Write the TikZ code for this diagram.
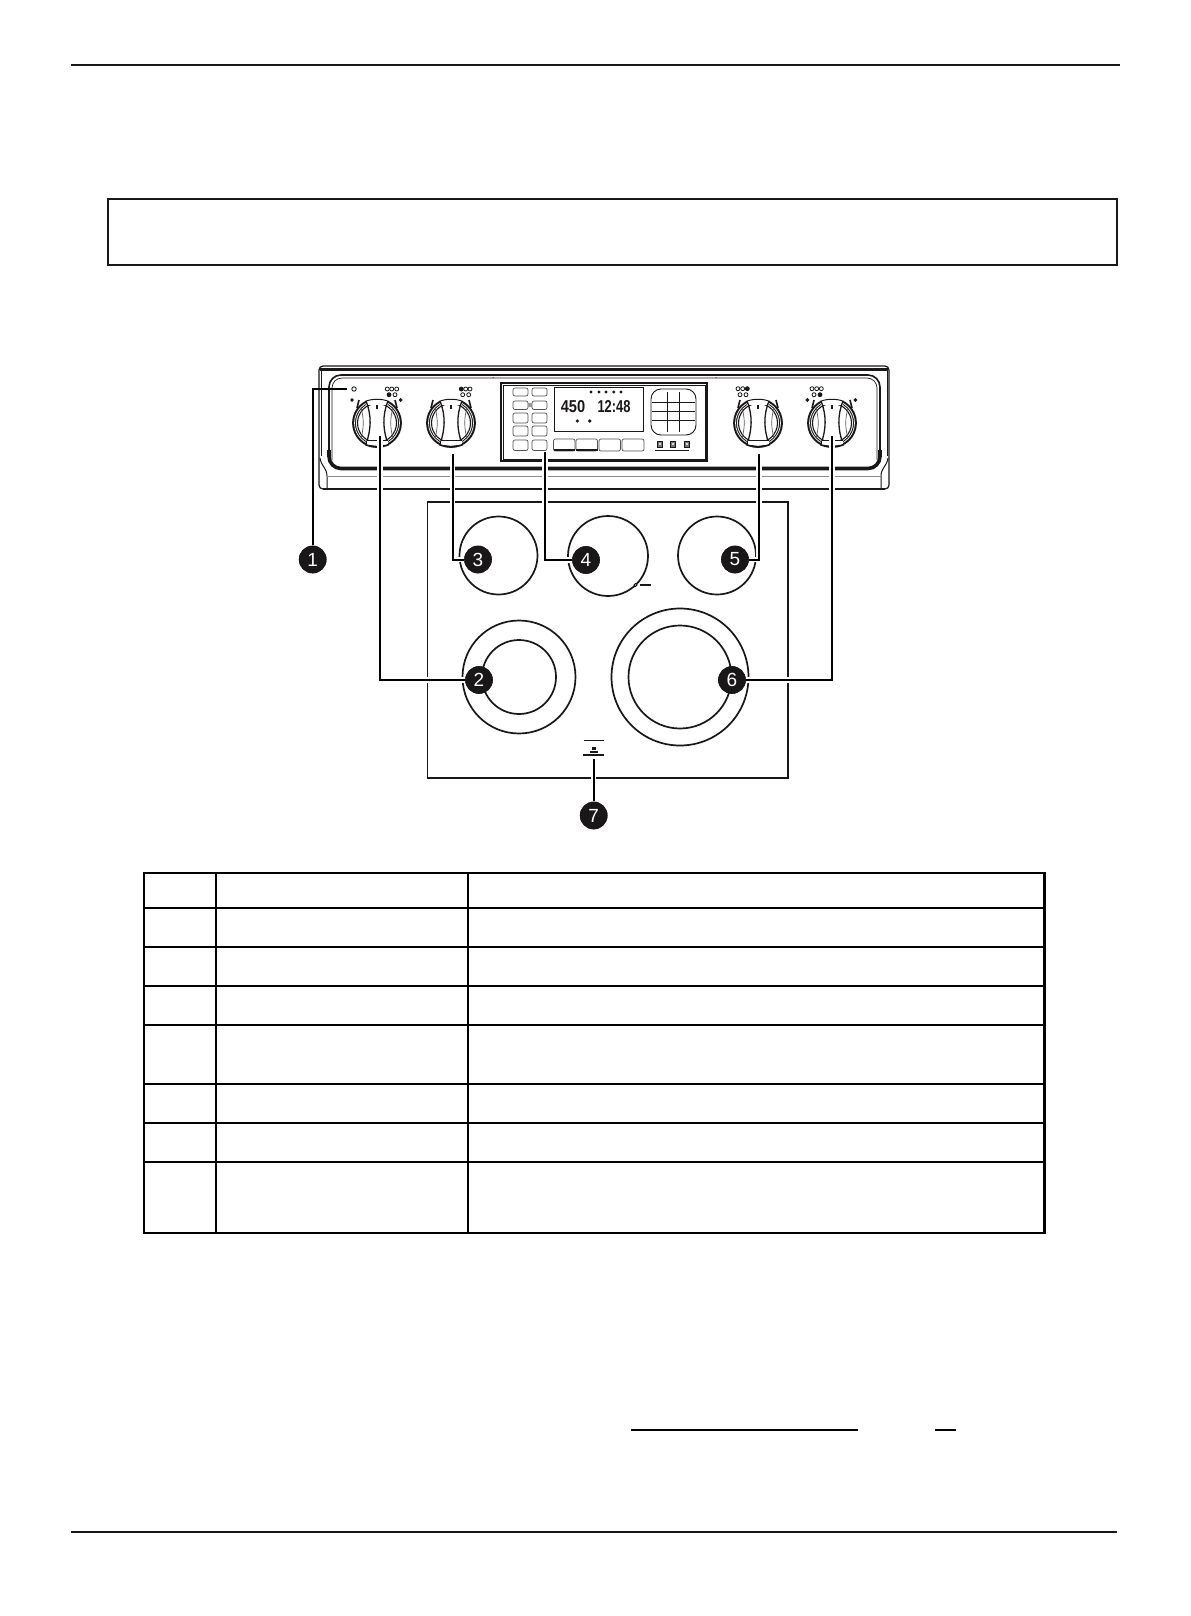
\documentclass[tikz,border=0pt]{standalone}
\usepackage{fontspec}
\usepackage{graphicx}
\setmainfont{Liberation Sans}
\definecolor{ink}{HTML}{1A1718}
\tikzset{
  x=0.5pt,y=-0.5pt,
  rule/.style={line width=0.95pt,draw=ink},
  hrow/.style={line width=0.6pt,draw=black},
  vrow/.style={line width=1.05pt,draw=black},
  burner/.style={line width=0.85pt,draw=ink},
  frame/.style={line width=0.55pt,draw=ink},
  thinl/.style={line width=0.3pt,draw=ink},
  keybox/.style={line width=0.35pt,draw=ink!75,rounded corners=1pt,fill=white},
  halo/.style={line width=2.6pt,draw=white},
  lead/.style={line width=1pt,draw=black},
  callout/.style={circle,fill=ink,text=white,inner sep=0pt,minimum size=13.8pt,font=\fontsize{9.5}{9.5}\selectfont},
  opdot/.style={line width=0.4pt,draw=ink,fill=white},
  fldot/.style={line width=0.4pt,draw=ink,fill=ink},
  dial/.pic={
    \draw[line width=1.9pt,draw=ink] (0,0) circle (23);
    \draw[line width=0.35pt,draw=white] (0,0) circle (22.5);
    \draw[line width=0.55pt,draw=ink] (0,0) circle (19.5);
    \fill[white] (-11,-26) rectangle (11,-18);
    \draw[line width=0.5pt,draw=ink] (-12,-21.5) .. controls (-5,-24.5) and (5,-24.5) .. (12,-21.5);
    \draw[line width=0.65pt,draw=ink] (-11,-22) .. controls (-5,-7) and (-6,7) .. (-11,21);
    \draw[line width=0.65pt,draw=ink] (11,-22) .. controls (5,-7) and (6,7) .. (11,21);
    \draw[line width=0.35pt,draw=ink!70] (-16,-15) .. controls (-13,-5) and (-13,5) .. (-16,15);
    \draw[line width=0.35pt,draw=ink!70] (16,-15) .. controls (13,-5) and (13,5) .. (16,15);
    \fill[white] (-10.5,17) rectangle (10.5,21.5);
    \draw[line width=0.45pt,draw=ink] (-10.5,17) -- (10.5,17);
    \draw[line width=0.8pt,draw=ink] (-12,21.5) .. controls (-4,24.5) and (4,24.5) .. (12,21.5);
    \draw[line width=0.8pt,draw=ink] (0,-18) -- (0,-14);
    \draw[line width=0.8pt,draw=ink] (-20,-15) -- (-18,-23);
    \draw[line width=0.8pt,draw=ink] (20,-15) -- (18,-23);
  }
}
\begin{document}
\begin{tikzpicture}
\useasboundingbox (0,0) rectangle (1190,1616);
\fill[white] (0,0) rectangle (1190,1616);
% page rules and empty box
\draw[rule] (71,65) -- (1120,65);
\draw[rule] (71,1532) -- (1117,1532);
\draw[line width=1pt,draw=ink] (108,199) rectangle (1117,265);
% control panel housing
\draw[line width=0.6pt,draw=ink,rounded corners=2pt] (323,489) -- (319,489) -- (319,366) -- (889,366) -- (889,489) -- (885,489);
\draw[line width=1.1pt,draw=ink] (320,369.5) -- (888,369.5);
\draw[line width=0.35pt,draw=ink] (321,369) -- (321,456);
\draw[line width=0.35pt,draw=ink] (887,369) -- (887,456);
\draw[line width=0.5pt,draw=ink] (320,458) .. controls (321,466) and (327,468) .. (327,476) -- (327,489);
\draw[line width=0.5pt,draw=ink] (888,458) .. controls (887,466) and (881,468) .. (881,476) -- (881,489);
\draw[line width=0.9pt,draw=ink] (323,489) -- (885,489);
\draw[line width=0.3pt,draw=ink!50] (327,476) -- (881,476);
% inner bezel
\draw[line width=0.8pt,draw=ink,rounded corners=6pt] (329,460) -- (329,375) -- (880,375) -- (880,460);
\draw[line width=0.35pt,draw=ink,rounded corners=5pt] (332,460) -- (332,378) -- (877,378) -- (877,460);
\draw[line width=1.8pt,draw=ink,rounded corners=6pt] (329,450) -- (329,468.5) -- (880,468.5) -- (880,450);
\fill[ink] (493,377.5) circle (0.5);
\fill[ink] (716,377.5) circle (0.5);
% indicator light
\draw[line width=0.45pt,draw=ink] (354,389) circle (2.2);
% setting dots, knob 1
\draw[opdot] (387.3,389) circle (2);\draw[opdot] (391.7,389) circle (2);\draw[opdot] (396.7,389) circle (2);
\draw[fldot] (389,394.7) circle (2);\draw[opdot] (395,394.7) circle (2);
\draw[fldot] (352,400) circle (1.4);\draw[fldot] (400.7,400) circle (1.4);
% setting dots, knob 2
\draw[fldot] (461.3,389) circle (2);\draw[opdot] (465.7,389) circle (2);\draw[opdot] (470,389) circle (2);
\draw[opdot] (462.7,394.7) circle (2);\draw[opdot] (468.7,394.7) circle (2);
% setting dots, knob 3
\draw[opdot] (738,388.7) circle (2);\draw[opdot] (742.7,388.7) circle (2);\draw[fldot] (747.3,388.7) circle (2);
\draw[opdot] (740,394.7) circle (2);\draw[opdot] (746,394.7) circle (2);
% setting dots, knob 4
\draw[opdot] (812,388.7) circle (2);\draw[opdot] (816.7,388.7) circle (2);\draw[opdot] (821.3,388.7) circle (2);
\draw[opdot] (814,394.7) circle (2);\draw[fldot] (820,394.7) circle (2);
\draw[fldot] (807.3,400) circle (1.4);\draw[fldot] (855.3,400) circle (1.4);
% knobs
\pic at (377,423) {dial};
\pic at (451,423) {dial};
\pic at (758,423) {dial};
\pic at (832,423) {dial};
\draw[line width=0.5pt,draw=ink] (369,445) -- (370,447);
\draw[line width=0.5pt,draw=ink] (384,445) -- (383,447);
\draw[line width=0.5pt,draw=ink] (824,445) -- (825,447);
\draw[line width=0.5pt,draw=ink] (839,445) -- (838,447);
% control centre
\draw[line width=0.55pt,draw=ink] (501,383) rectangle (707,461);
\draw[thinl] (503,385) rectangle (705,459);
\foreach \kx in {513,532}{
  \draw[keybox] (\kx,388) rectangle ++(15,8);
  \draw[keybox] (\kx,401) rectangle ++(15,8.5);
  \draw[keybox] (\kx,413) rectangle ++(15,10);
  \draw[keybox] (\kx,426) rectangle ++(15,10);
  \draw[keybox] (\kx,440) rectangle ++(15,10.5);
}
\fill[ink!45] (528,402.5) rectangle (532,407);
\draw[keybox] (553.5,439) rectangle (575,451);
\draw[keybox] (576,439) rectangle (597.5,451);
\draw[keybox] (599,439) rectangle (620.5,451);
\draw[keybox] (622,439) rectangle (644,451);
\draw[line width=0.7pt,draw=ink] (553.5,450) -- (575,450);
\draw[line width=0.7pt,draw=ink] (576,450) -- (597.5,450);
\draw[line width=0.45pt,draw=ink] (554,387) rectangle (643,431);
\foreach \dx in {591,599,606,613.7,621}{\fill[ink] (\dx,392) circle (1.6);}
\fill[ink] (577.3,421) circle (1.8);
\fill[ink] (589.7,421) circle (1.8);
\node[inner sep=0pt,font=\bfseries\fontsize{8.6}{8.6}\selectfont,text=ink] (temp) at (573,406.5) {\scalebox{.85}[1]{450}};
\node[inner sep=0pt,font=\bfseries\fontsize{8.6}{8.6}\selectfont,text=ink] (clock) at (614,406.5) {\scalebox{.75}[1]{12:48}};
\draw[line width=0.45pt,draw=ink,rounded corners=5pt] (651,389) rectangle (696,435);
\foreach \gy in {402.7,411.7,420.7}{\draw[thinl] (652,\gy) -- (695,\gy);}
\foreach \gx in {667.3,679.3}{\draw[thinl] (\gx,392) -- (\gx,432);}
\foreach \bx in {660,673,687}{\draw[line width=0.35pt,draw=ink,fill=ink!60] (\bx-2.8,441) rectangle (\bx+2.8,447);\fill[white] (\bx,444) circle (1.1);}
\draw[thinl] (655,450) -- (689,450);
% cooktop
\draw[line width=0.55pt,draw=ink] (427.5,502) rectangle (788,778);
\draw[burner] (498.5,555.5) circle (39);
\draw[burner] (608,556) circle (40);
\draw[burner] (717,555.5) circle (39);
\draw[burner] (519,677) circle (56.5);
\draw[burner] (519,677) circle (37);
\draw[burner] (680,677) circle (68.5);
\draw[burner] (680,677) circle (51.5);
\draw[line width=0.4pt,draw=ink,fill=white] (635.5,585) circle (1.5);
\draw[line width=0.9pt,draw=ink] (639.5,585) -- (650.5,585);
\draw[line width=0.45pt,draw=ink] (583.5,740) -- (603.5,740);
\fill[ink] (592,747) rectangle (595.5,750);
\fill[ink] (590,751) rectangle (597.5,752.5);
\draw[line width=0.9pt,draw=ink] (583,755) -- (604,755);
% free ends of the leaders
\coordinate (e1) at (347,389);
\coordinate (e2) at (380,436);
\coordinate (e3) at (452.7,454);
\coordinate (e4) at (545,452);
\coordinate (e5) at (759,454);
\coordinate (e6) at (832,436);
\coordinate (e7) at (593.7,759);
% callouts
\node[callout] (c1) at (312.7,559.5) {1};
\node[callout] (c2) at (479,680) {2};
\node[callout] (c3) at (478,559.5) {3};
\node[callout] (c4) at (586,560) {4};
\node[callout] (c5) at (735,559.5) {5};
\node[callout] (c6) at (732,680) {6};
\node[callout] (c7) at (593.7,815.5) {7};
% leader halos
\draw[halo] (e2) |- (c2);
\draw[halo] (e3) |- (c3);
\draw[halo] (e4) |- (c4);
\draw[halo] (e5) |- (c5);
\draw[halo] (e6) |- (c6);
\draw[halo] (e7) -- (c7);
% leaders
\draw[lead] (e1) -| (c1);
\draw[lead] (e2) |- (c2);
\draw[lead] (e3) |- (c3);
\draw[lead] (e4) |- (c4);
\draw[lead] (e5) |- (c5);
\draw[lead] (e6) |- (c6);
\draw[lead] (e7) -- (c7);
% callouts again above the halos
\node[callout] at (c1) {1};
\node[callout] at (c2) {2};
\node[callout] at (c3) {3};
\node[callout] at (c4) {4};
\node[callout] at (c5) {5};
\node[callout] at (c6) {6};
\node[callout] at (c7) {7};
% table
\foreach \ry in {908,947,986,1025,1084,1123,1162}{\draw[hrow] (144,\ry) -- (1044.5,\ry);}
\draw[vrow] (144,873) rectangle (1044.5,1233);
\draw[vrow] (216,873) -- (216,1233);
\draw[vrow] (468,873) -- (468,1233);
% blanks
\draw[line width=0.6pt,draw=black] (631,1430) -- (858,1430);
\draw[line width=0.6pt,draw=black] (935,1430) -- (956,1430);
\end{tikzpicture}
\end{document}
